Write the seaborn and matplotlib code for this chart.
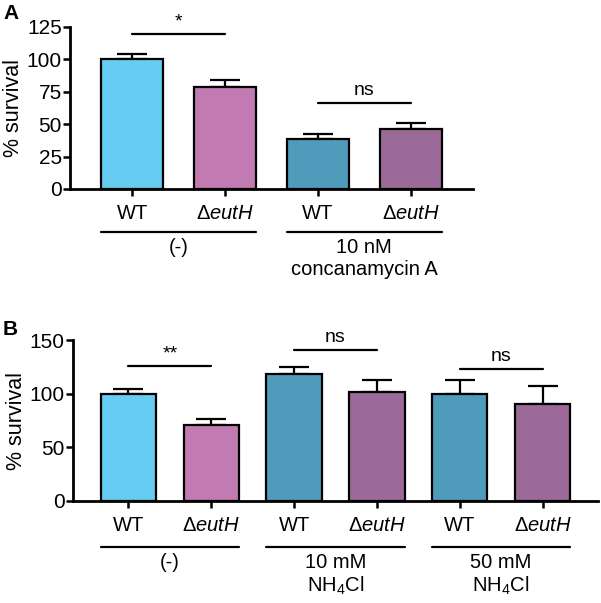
import numpy as np
import pandas as pd
import matplotlib
matplotlib.use("Agg")
import matplotlib.pyplot as plt
import seaborn as sns

# -----------------------------
# Data
# -----------------------------
A_KEYS = ["A_wt_ctrl", "A_eut_ctrl", "A_wt_conc", "A_eut_conc"]
A_STRAINS = ["WT", "eutH", "WT", "eutH"]
A_MEANS = [100.0, 78.5, 38.5, 46.5]
A_ERRS = [4.5, 5.5, 4.0, 4.5]
A_GROUPS = ["(-)", "10 nM\nconcanamycin A"]
A_SIG = [(0, 1, 119.5, "*"), (2, 3, 66.5, "ns")]

B_KEYS = ["B_wt_ctrl", "B_eut_ctrl", "B_wt_10", "B_eut_10", "B_wt_50", "B_eut_50"]
B_STRAINS = ["WT", "eutH", "WT", "eutH", "WT", "eutH"]
B_MEANS = [100.0, 71.0, 118.5, 102.0, 100.0, 90.5]
B_ERRS = [4.5, 5.0, 6.0, 11.0, 13.0, 16.5]
B_GROUPS = ["(-)", "10 mM\nNH$_4$Cl", "50 mM\nNH$_4$Cl"]
B_SIG = [(0, 1, 125.5, "**"), (2, 3, 140.5, "ns"), (4, 5, 123.0, "ns")]

COLORS = ["#66CCF2", "#C17BB2", "#4E9BBB", "#9B6A98"]
BAR_W = 0.67

sns.set_style("ticks")
plt.rcParams["font.family"] = ["Liberation Sans", "DejaVu Sans"]
plt.rcParams["mathtext.fontset"] = "custom"
plt.rcParams["mathtext.rm"] = "Liberation Sans"
plt.rcParams["mathtext.it"] = "Liberation Sans:italic"
for k in ["text.color", "axes.labelcolor", "xtick.color", "ytick.color", "axes.edgecolor"]:
    plt.rcParams[k] = "black"


def strain_label(s):
    return "WT" if s == "WT" else "Δ$\\mathit{eutH}$"


def draw_panel(ax, keys, strains, means, errs, groups, sig, ylim, yticks, group_y, label_y):
    df = pd.DataFrame({"key": keys, "mean": means})
    pal = [COLORS[i % 2] if i < 2 else COLORS[2 + i % 2] for i in range(len(keys))]
    sns.barplot(data=df, x="key", y="mean", hue="key", palette=pal, legend=False,
                saturation=1, width=BAR_W, edgecolor="black", linewidth=1.6,
                ax=ax, zorder=3)
    x = np.arange(len(keys))
    ax.errorbar(x, means, yerr=[np.zeros(len(errs)), errs], fmt="none",
                ecolor="black", elinewidth=1.6, capsize=11, capthick=1.6, zorder=2)

    ax.set_ylim(*ylim)
    ax.set_yticks(yticks)
    ax.set_xlim(-0.67, len(keys) - 1 + 0.67)
    ax.set_xticks(x)
    ax.set_xticklabels([strain_label(s) for s in strains], fontsize=14.5)
    ax.set_xlabel("")
    ax.set_ylabel("% survival", fontsize=15.5, labelpad=2)
    ax.tick_params(axis="y", labelsize=15, width=1.8, length=5, pad=1)
    ax.tick_params(axis="x", width=1.8, length=5, pad=6)
    sns.despine(ax=ax)
    for side in ["left", "bottom"]:
        ax.spines[side].set_linewidth(2)

    # significance lines
    for i, j, yv, txt in sig:
        ax.plot([i, j], [yv, yv], color="black", lw=1.6, clip_on=False)
        ax.text((i + j) / 2, yv + (ylim[1] * 0.025), txt, ha="center", va="bottom", fontsize=14)

    # group underlines and labels
    trans = ax.get_xaxis_transform()
    for g, name in enumerate(groups):
        x0 = 2 * g - BAR_W / 2
        x1 = 2 * g + 1 + BAR_W / 2
        ax.plot([x0, x1], [group_y, group_y], color="black", lw=1.6,
                transform=trans, clip_on=False)
        ax.text(2 * g + 0.5, label_y, name, ha="center", va="top", fontsize=14.5,
                transform=trans, linespacing=1.2)


fig = plt.figure(figsize=(6.01, 6.03), dpi=100)
axA = fig.add_axes([70 / 601, (603 - 189) / 603, (473 - 70) / 601, 162 / 603])
axB = fig.add_axes([73 / 601, (603 - 501) / 603, (598 - 73) / 601, 161 / 603])

draw_panel(axA, A_KEYS, A_STRAINS, A_MEANS, A_ERRS, A_GROUPS, A_SIG,
           (0, 125), [0, 25, 50, 75, 100, 125], -0.265, -0.30)
draw_panel(axB, B_KEYS, B_STRAINS, B_MEANS, B_ERRS, B_GROUPS, B_SIG,
           (0, 150), [0, 50, 100, 150], -0.285, -0.32)

fig.text(3 / 601, 1 - 4 / 603, "A", fontsize=15, fontweight="bold", va="top", ha="left")
fig.text(3 / 601, 1 - 320 / 603, "B", fontsize=15, fontweight="bold", va="top", ha="left")

fig.savefig("out.png", dpi=100)
